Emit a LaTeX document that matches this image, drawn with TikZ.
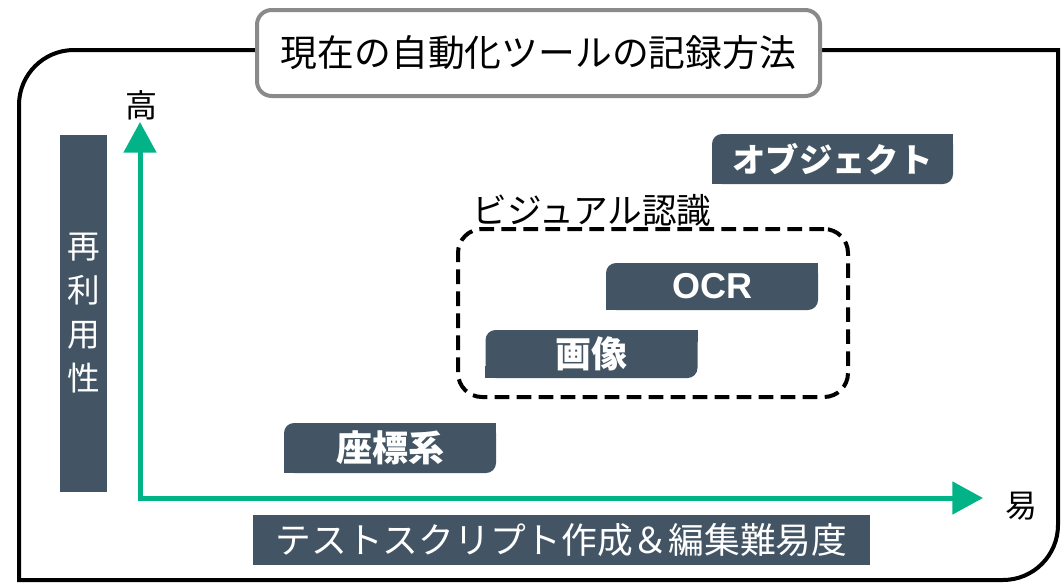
\documentclass[tikz,border=0pt]{standalone}
\usepackage{fontspec}
\newfontfamily\jp{Noto Sans CJK JP}
\newfontfamily\lat{Liberation Sans}
\usetikzlibrary{arrows.meta}
\definecolor{slate}{HTML}{435564}
\definecolor{hgreen}{HTML}{01B386}
\definecolor{tgray}{HTML}{8A8A8A}
\tikzset{
  frame/.style={line width=3pt, black},
  titlebox/.style={draw=tgray, line width=3pt, fill=white, rounded corners=11pt,
    inner sep=0pt, font=\jp\fontsize{27.6}{30}\selectfont},
  tab/.style={fill=slate, text=white, rounded corners=7.5pt, inner sep=0pt,
    font=\jp\bfseries\fontsize{27}{30}\selectfont},
  bar/.style={fill=slate, text=white, inner sep=0pt},
  axis/.style={hgreen, line width=3.75pt,
    {Triangle[length=23pt,width=24pt]}-{Triangle[length=23pt,width=24pt]}},
  axislabel/.style={font=\jp\fontsize{24}{26}\selectfont, inner sep=0pt},
  groupbox/.style={draw=black, line width=3pt, dash pattern=on 11pt off 5.5pt,
    rounded corners=18pt, inner sep=0pt},
  grouplabel/.style={font=\jp\fontsize{26}{28}\selectfont, inner sep=0pt}
}
\newcommand\tabnode[6]{%
  \node[tab, minimum width=#4*0.75pt, minimum height=#5*0.75pt] (#1) at (#2,#3) {#6};
  \fill[slate] (#1.north east) rectangle ([xshift=-9pt,yshift=-9pt]#1.north east);
  \fill[slate] (#1.south west) rectangle ([xshift=9pt,yshift=9pt]#1.south west);
}
\begin{document}
\begin{tikzpicture}[x=0.75pt,y=-0.75pt]
\useasboundingbox (0,0) rectangle (1064,582);
% outer frame
\draw[frame] (74,50) -- (1058,50) -- (1058,525)
  arc[start angle=0, end angle=-90, radius=41.25pt] -- (19,580) -- (19,105)
  arc[start angle=180, end angle=90, radius=41.25pt] -- cycle;
% title
\node[titlebox, minimum width=563*0.75pt, minimum height=86*0.75pt] (title) at (538.5,53)
  {現在の自動化ツールの記録方法};
% vertical bar
\node[bar, minimum width=47*0.75pt, minimum height=357*0.75pt] (reuse) at (83.5,313)
  {};
\node[text=white, align=center, inner sep=0pt, font=\jp\fontsize{24.5}{32.8}\selectfont]
  (reusetext) at (reuse.center) {再\\利\\用\\性};
% bottom bar
\node[bar, minimum width=617*0.75pt, minimum height=50*0.75pt,
  font=\jp\fontsize{26.8}{28}\selectfont] (ease) at (561.5,540)
  {テストスクリプト作成＆編集難易度};
% axes
\coordinate (ytip) at (140,122);
\coordinate (origin) at (140,498);
\coordinate (xtip) at (983,498);
\draw[axis] (ytip) |- (xtip);
\node[axislabel] (high) at (141,105) {高};
\node[axislabel] (easy) at (1021,506) {易};
% dashed group
\node[groupbox, minimum width=390*0.75pt, minimum height=168*0.75pt] (visual) at (653,313) {};
\node[grouplabel] (visuallabel) at (592,210) {ビジュアル認識};
% tabs
\tabnode{coord}{390}{448}{212}{50}{座標系}
\tabnode{image}{591.5}{354}{212}{48}{画像}
\tabnode{ocr}{712}{286.5}{212}{47}{\lat OCR}
\tabnode{obj}{832.5}{159}{241}{50}{\fontsize{25}{28}\selectfont オブジェクト}
\end{tikzpicture}
\end{document}
